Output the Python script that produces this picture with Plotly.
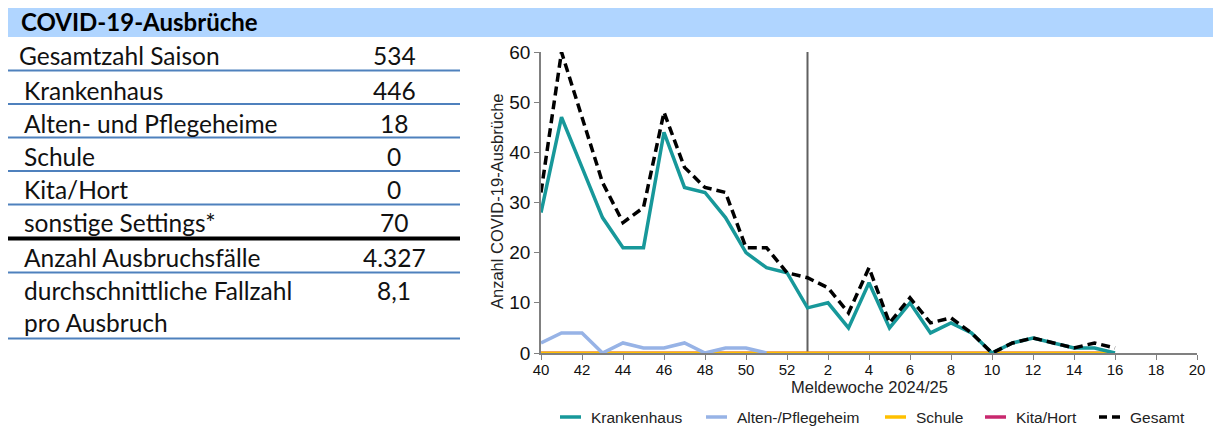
import plotly.graph_objects as go

# ---------------- data ----------------
axis_weeks = [40, 41, 42, 43, 44, 45, 46, 47, 48, 49, 50, 51, 52,
              1, 2, 3, 4, 5, 6, 7, 8, 9, 10, 11, 12, 13, 14, 15, 16, 17, 18, 19, 20]
data_weeks = [40, 41, 42, 43, 44, 45, 46, 47, 48, 49, 50, 51, 52,
              1, 2, 3, 4, 5, 6, 7, 8, 9, 10, 11, 12, 13, 14, 15, 16]
alten_weeks = [40, 41, 42, 43, 44, 45, 46, 47, 48, 49, 50, 51]

krankenhaus = [28, 47, 37, 27, 21, 21, 44, 33, 32, 27, 20, 17, 16,
               9, 10, 5, 14, 5, 10, 4, 6, 4, 0, 2, 3, 2, 1, 1, 0]
alten = [2, 4, 4, 0, 2, 1, 1, 2, 0, 1, 1, 0]
schule = [0, 0, 0, 0, 0, 0, 0, 0, 0, 0, 0, 0, 0,
          0, 0, 0, 0, 0, 0, 0, 0, 0, 0, 0, 0, 0, 0, 0, 0]
kita = [0, 0, 0, 0, 0, 0, 0, 0, 0, 0, 0, 0, 0,
        0, 0, 0, 0, 0, 0, 0, 0, 0, 0, 0, 0, 0, 0, 0, 0]
gesamt = [32, 60, 47, 34, 26, 29, 48, 37, 33, 32, 21, 21, 16,
          15, 13, 8, 17, 6, 11, 6, 7, 4, 0, 2, 3, 2, 1, 2, 1]

tick_weeks = [40, 42, 44, 46, 48, 50, 52, 2, 4, 6, 8, 10, 12, 14, 16, 18, 20]
y_ticks = [0, 10, 20, 30, 40, 50, 60]
season_start_week = 1

series_names = ["Krankenhaus", "Alten-/Pflegeheim", "Schule", "Kita/Hort", "Gesamt"]
series_colors = ["#17989a", "#97b3e6", "#ffc000", "#c8286e", "#000000"]

table_title = "COVID-19-Ausbrüche"
table_labels = ["Gesamtzahl Saison", "Krankenhaus", "Alten- und Pflegeheime", "Schule",
                "Kita/Hort", "sonstige Settings*", "Anzahl Ausbruchsfälle",
                "durchschnittliche Fallzahl", "pro Ausbruch"]
table_values = ["534", "446", "18", "0", "0", "70", "4.327", "8,1", ""]

# ---------------- layout helpers (page pixel coords) ----------------
PAGE_W, PAGE_H = 1221, 430
OFF = 8                      # default body margin of the html page
FW, FH = PAGE_W - OFF, PAGE_H - OFF
L, R, T, B = 541, 1197, 52, 353


def px(x):
    return (x - L) / (R - L)


def py(y):
    return (B - y) / (B - T)


def pos(weeks):
    return [axis_weeks.index(w) for w in weeks]


fig = go.Figure()

fig.add_trace(go.Scatter(x=pos(data_weeks), y=kita, mode="lines", name=series_names[3],
                         line=dict(color=series_colors[3], width=3), showlegend=False))
fig.add_trace(go.Scatter(x=pos(data_weeks), y=schule, mode="lines", name=series_names[2],
                         line=dict(color=series_colors[2], width=3), showlegend=False))
fig.add_trace(go.Scatter(x=pos(alten_weeks), y=alten, mode="lines", name=series_names[1],
                         line=dict(color=series_colors[1], width=3.5), showlegend=False))
fig.add_trace(go.Scatter(x=pos(data_weeks), y=krankenhaus, mode="lines", name=series_names[0],
                         line=dict(color=series_colors[0], width=3.5), showlegend=False))
fig.add_trace(go.Scatter(x=pos(data_weeks), y=gesamt, mode="lines", name=series_names[4],
                         line=dict(color=series_colors[4], width=3.5, dash="9px,5px"),
                         showlegend=False))

shapes = []
annotations = []

# title bar
shapes.append(dict(type="rect", xref="paper", yref="paper",
                   x0=px(6), x1=px(1213), y0=py(37), y1=py(5),
                   fillcolor="#b0d5ff", line=dict(width=0), layer="below"))
annotations.append(dict(xref="paper", yref="paper", x=px(19), y=py(21.5),
                        xanchor="left", yanchor="middle", showarrow=False,
                        text=table_title,
                        font=dict(family="Lato", size=24, color="#000000", weight=700)))

# table rows
row_y = [55, 89, 122, 155, 188, 221.5, 256.5, 289, 321.5]
label_x = [17, 22, 22, 22, 22, 22, 22, 22, 22]
for lab, val, yy, lx in zip(table_labels, table_values, row_y, label_x):
    annotations.append(dict(xref="paper", yref="paper", x=px(lx), y=py(yy + 1),
                            xanchor="left", yanchor="middle", showarrow=False, text=lab,
                            font=dict(family="Lato", size=24.5, color="#111111")))
    if val:
        annotations.append(dict(xref="paper", yref="paper", x=px(394), y=py(yy + 1),
                                xanchor="center", yanchor="middle", showarrow=False, text=val,
                                font=dict(family="Lato", size=24.5, color="#111111")))

for ly in [70.5, 104, 137.5, 171, 204.5, 272.5, 338.5]:
    shapes.append(dict(type="line", xref="paper", yref="paper",
                       x0=px(7), x1=px(460), y0=py(ly), y1=py(ly),
                       line=dict(color="#4f81bd", width=2)))
shapes.append(dict(type="line", xref="paper", yref="paper",
                   x0=px(7), x1=px(460), y0=py(238.5), y1=py(238.5),
                   line=dict(color="#000000", width=4)))

# season start vertical line
shapes.append(dict(type="line", xref="x", yref="y",
                   x0=axis_weeks.index(season_start_week), x1=axis_weeks.index(season_start_week),
                   y0=0, y1=60, line=dict(color="#606060", width=2), layer="below"))

# axis titles
annotations.append(dict(xref="paper", yref="paper", x=px(869), y=py(387),
                        xanchor="center", yanchor="middle", showarrow=False,
                        text="Meldewoche 2024/25",
                        font=dict(family="Liberation Sans", size=16.5, color="#222222")))
annotations.append(dict(xref="paper", yref="paper", x=px(497), y=py(201),
                        xanchor="center", yanchor="middle", showarrow=False, textangle=-90,
                        text="Anzahl COVID-19-Ausbrüche",
                        font=dict(family="Liberation Sans", size=16.5, color="#222222")))

# legend (manual, horizontal)
legend_order = [0, 1, 2, 3, 4]
legend_sample_x = [560, 706, 885, 985, 1099]
legend_y = 417
for i, sx in zip(legend_order, legend_sample_x):
    if i == 4:
        shapes.append(dict(type="line", xref="paper", yref="paper",
                           x0=px(sx), x1=px(sx + 8), y0=py(legend_y), y1=py(legend_y),
                           line=dict(color=series_colors[i], width=3.5)))
        shapes.append(dict(type="line", xref="paper", yref="paper",
                           x0=px(sx + 13), x1=px(sx + 21), y0=py(legend_y), y1=py(legend_y),
                           line=dict(color=series_colors[i], width=3.5)))
    else:
        shapes.append(dict(type="line", xref="paper", yref="paper",
                           x0=px(sx), x1=px(sx + 21), y0=py(legend_y), y1=py(legend_y),
                           line=dict(color=series_colors[i], width=3.5)))
    annotations.append(dict(xref="paper", yref="paper", x=px(sx + 29), y=py(legend_y),
                            xanchor="left", yanchor="middle", showarrow=False,
                            text=series_names[i],
                            font=dict(family="Liberation Sans", size=15.5, color="#222222")))

fig.update_layout(
    width=FW, height=FH,
    margin=dict(l=L - OFF, r=(OFF + FW) - R, t=T - OFF, b=(OFF + FH) - B, pad=0),
    paper_bgcolor="#ffffff", plot_bgcolor="#ffffff",
    showlegend=False,
    shapes=shapes, annotations=annotations,
    xaxis=dict(range=[0, len(axis_weeks) - 1], tickmode="array",
               tickvals=pos(tick_weeks), ticktext=[str(w) for w in tick_weeks],
               showgrid=False, zeroline=False, showline=True, linecolor="#808080",
               linewidth=1.5, ticks="outside", ticklen=5, tickcolor="#808080",
               ticklabelstandoff=-3,
               tickfont=dict(family="Liberation Sans", size=15, color="#111111")),
    yaxis=dict(range=[0, 60], tickmode="array", tickvals=y_ticks,
               showgrid=False, zeroline=False, showline=True, linecolor="#808080",
               linewidth=1.5, ticks="outside", ticklen=5, tickcolor="#808080",
               tickfont=dict(family="Liberation Sans", size=19, color="#111111")),
)

fig.write_html("out.html")
